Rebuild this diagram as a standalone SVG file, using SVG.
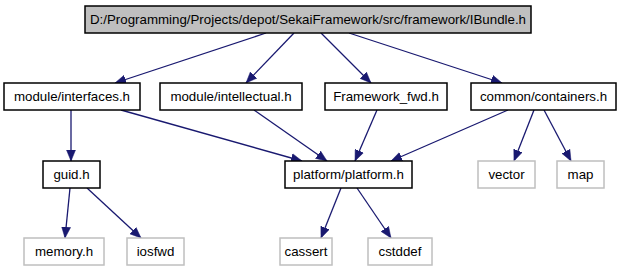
<svg xmlns="http://www.w3.org/2000/svg" width="624" height="272" viewBox="0 0 624 272">
  <style>
    .node rect { fill: #ffffff; stroke: #000000; stroke-width: 1.5; }
    .node.root rect { fill: #bfbfbf; }
    .node.ext rect { stroke: #bfbfbf; }
    .node text { font-family: "Liberation Sans", Arial, sans-serif; font-size: 13.3px; fill: #000000; text-anchor: middle; }
    .edges path { fill: none; stroke: #191970; stroke-width: 1.3; marker-end: url(#arrow); }
  </style>
  <defs>
    <marker id="arrow" markerUnits="userSpaceOnUse" markerWidth="12" markerHeight="10" refX="11" refY="5" orient="auto">
      <path d="M0,0.5 L11,5 L0,9.5 z" fill="#191970" stroke="#191970" stroke-width="0.5"/>
    </marker>
  </defs>

  <rect width="624" height="272" fill="#ffffff"/>

  <!-- include edges -->
  <g id="edges" class="edges">
    <path d="M266,33 L115,83"/>
    <path d="M294,33 L246,83"/>
    <path d="M321,33 L371,83"/>
    <path d="M349,33 L502,83"/>
    <path d="M71,110 L71,161"/>
    <path d="M121,110 L302,161"/>
    <path d="M254,110 L327,161"/>
    <path d="M377,110 L355,161"/>
    <path d="M508,110 L391,161"/>
    <path d="M534,110 L514,161"/>
    <path d="M544,110 L571,161"/>
    <path d="M70,188 L65,238"/>
    <path d="M87,188 L141,238"/>
    <path d="M341,188 L321,238"/>
    <path d="M357,188 L391,238"/>
  </g>

  <!-- header files -->
  <g id="node-ibundle" class="node root">
    <rect x="85" y="6" width="446" height="27"/>
    <text x="308" y="24">D:/Programming/Projects/depot/SekaiFramework/src/framework/IBundle.h</text>
  </g>
  <g id="node-interfaces" class="node">
    <rect x="4" y="83" width="136" height="27"/>
    <text x="72" y="101">module/interfaces.h</text>
  </g>
  <g id="node-intellectual" class="node">
    <rect x="160" y="83" width="142" height="27"/>
    <text x="231" y="101">module/intellectual.h</text>
  </g>
  <g id="node-framework-fwd" class="node">
    <rect x="325" y="83" width="122" height="27"/>
    <text x="386" y="101">Framework_fwd.h</text>
  </g>
  <g id="node-containers" class="node">
    <rect x="471" y="83" width="145" height="27"/>
    <text x="543.5" y="101">common/containers.h</text>
  </g>
  <g id="node-guid" class="node">
    <rect x="43" y="161" width="57" height="27"/>
    <text x="71.5" y="179">guid.h</text>
  </g>
  <g id="node-platform" class="node">
    <rect x="285" y="161" width="127" height="27"/>
    <text x="348.5" y="179">platform/platform.h</text>
  </g>
  <g id="node-vector" class="node ext">
    <rect x="478" y="161" width="57" height="27"/>
    <text x="506.5" y="179">vector</text>
  </g>
  <g id="node-map" class="node ext">
    <rect x="557" y="161" width="47" height="27"/>
    <text x="580.5" y="179">map</text>
  </g>
  <g id="node-memory" class="node ext">
    <rect x="24" y="238" width="80" height="27"/>
    <text x="64" y="256">memory.h</text>
  </g>
  <g id="node-iosfwd" class="node ext">
    <rect x="127" y="238" width="57" height="27"/>
    <text x="155.5" y="256">iosfwd</text>
  </g>
  <g id="node-cassert" class="node ext">
    <rect x="280" y="238" width="52" height="27"/>
    <text x="306" y="256">cassert</text>
  </g>
  <g id="node-cstddef" class="node ext">
    <rect x="368" y="238" width="64" height="27"/>
    <text x="400" y="256">cstddef</text>
  </g>
</svg>
